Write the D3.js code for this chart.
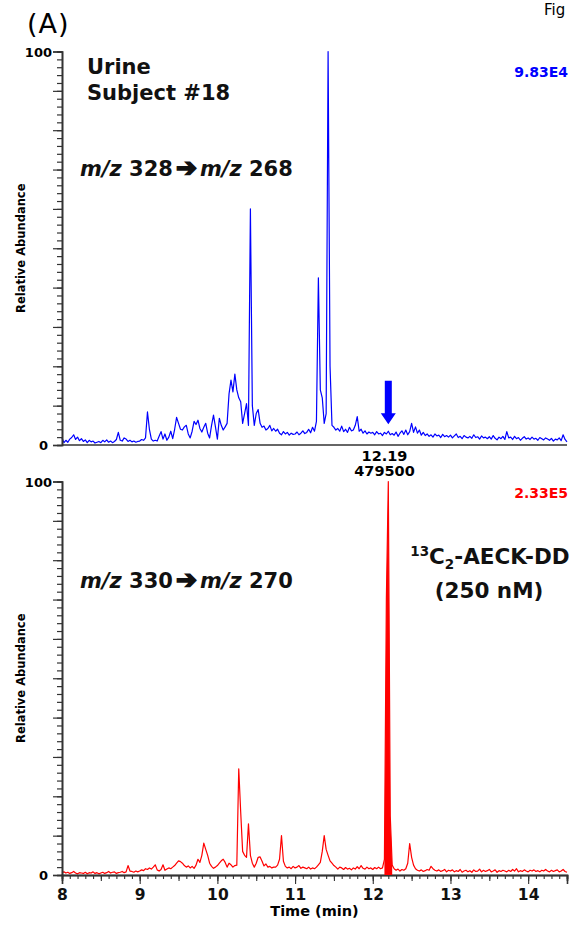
<!DOCTYPE html>
<html>
<head>
<meta charset="utf-8">
<script src="https://cdn.jsdelivr.net/npm/d3@7"></script>
<style>
  body { margin: 0; background: #fff; }
  text { font-family: "DejaVu Sans", Verdana, sans-serif; }
</style>
</head>
<body>
<svg width="574" height="926"></svg>
<script>

// sampling grid of both traces (min)
var timeStart = 8, timeStep = 0.025;
var xTickValues = [8, 9, 10, 11, 12, 13, 14];
var yTickLabels = [0, 100];

// m/z 328 -> 268, relative abundance (%)
var blueTrace = [
  1.8, 0.6, 1.2, 0.7, 1.5, 1.9, 2.6, 1.4, 2.0, 1.1,
  1.6, 0.9, 1.3, 0.6, 1.2, 0.8, 1.0, 0.5, 0.7, 0.9,
  0.6, 1.2, 0.8, 1.3, 0.7, 1.0, 0.6, 0.9, 1.4, 3.2,
  1.2, 1.0, 1.8, 1.5, 0.9, 1.2, 0.8, 1.0, 0.7, 0.9,
  1.0, 1.4, 1.2, 1.8, 8.4, 4.0, 1.5, 1.0, 1.2, 1.0,
  2.2, 3.4, 1.5, 2.8, 1.2, 2.0, 3.5, 1.6, 4.0, 7.0,
  5.5, 4.0, 3.8, 4.6, 5.0, 2.8, 1.8, 3.5, 6.0, 5.2,
  6.3, 4.2, 3.3, 4.5, 5.5, 3.0, 1.8, 5.0, 7.6, 4.6,
  1.5, 6.8, 5.0, 3.8, 4.6, 5.5, 13.0, 16.5, 13.5, 18.0,
  14.0, 12.0, 11.0, 5.5, 8.0, 10.5, 5.0, 60.0, 10.0, 5.0,
  8.0, 9.0, 5.5, 4.5, 4.8, 3.8, 4.2, 5.0, 3.6, 4.2,
  3.5, 4.0, 3.0, 2.6, 3.4, 2.8, 3.2, 2.5, 3.0, 2.7,
  2.8, 3.3, 2.6, 3.0, 3.6, 2.9, 3.2, 4.0, 3.1, 4.5,
  3.5, 6.0, 42.5, 14.0, 12.0, 5.5, 8.0, 100, 20.0, 5.0,
  4.5, 3.8, 4.2, 3.5, 4.8, 3.4, 4.0, 3.2, 4.5, 3.6,
  3.8, 5.0, 7.2, 3.5, 4.0, 3.0, 3.6, 2.8, 3.3, 3.0,
  3.2, 2.6, 3.4, 2.8, 3.0, 2.4, 3.2, 2.8, 3.5, 2.6,
  2.9, 2.5, 3.3, 2.2, 3.0, 3.6, 2.7, 3.8, 2.6, 3.4,
  5.5, 3.2, 4.6, 3.0, 3.8, 2.5, 3.2, 2.4, 2.8, 2.2,
  2.6, 2.0, 2.8, 2.3, 2.5, 1.9, 2.7, 2.1, 2.4, 2.0,
  2.5, 1.8, 2.3, 2.8, 1.9, 2.2, 1.6, 2.4, 2.0, 1.8,
  2.2, 1.7, 2.6, 1.9, 2.1, 1.5, 2.3, 1.8, 2.0, 1.6,
  2.1, 1.5, 2.4, 1.7, 1.3, 2.0, 1.6, 2.2, 1.4, 3.4,
  1.8, 2.0, 1.4, 2.2, 1.6, 1.9, 1.2, 1.7, 2.1, 1.5,
  1.8, 1.4, 2.0, 1.5, 1.7, 1.2, 1.9, 1.6, 1.3, 1.8,
  1.5, 1.2, 1.7, 1.0, 1.5, 1.3, 1.8, 1.1, 2.6, 1.4,
  0.8
];

// m/z 330 -> 270 (13C2 internal standard), relative abundance (%)
var redTrace = [
  0.6, 0.8, 0.5, 0.7, 0.4, 0.6, 0.9, 0.5, 0.3, 0.6,
  0.5, 0.4, 0.7, 0.3, 0.6, 0.5, 0.8, 0.4, 0.6, 0.3,
  0.5, 0.7, 0.4, 0.6, 0.9, 0.5, 0.7, 0.8, 0.4, 0.6,
  0.7, 0.9, 0.6, 0.8, 2.4, 1.0, 0.9, 0.7, 1.0, 0.8,
  1.0, 1.3, 1.1, 1.6, 1.4, 1.8, 1.5, 2.0, 2.6, 1.3,
  1.0, 1.4, 2.6, 1.2, 1.5, 1.8, 1.6, 2.0, 2.4, 3.0,
  3.6, 3.4, 3.0, 2.4, 2.0, 2.3, 1.8, 2.2, 1.7, 2.5,
  4.0, 3.2, 5.0, 8.1, 6.5, 5.0, 3.0, 2.2, 1.7, 2.0,
  2.4, 3.0, 3.6, 4.0, 3.2, 2.0, 3.0, 2.6, 2.0, 2.4,
  2.5, 27.0, 16.0, 6.0, 5.0, 4.5, 13.0, 5.0, 3.0, 2.0,
  3.0, 4.5, 4.6, 3.5, 2.3, 2.8, 2.0, 2.2, 1.8, 2.0,
  2.0, 2.5, 4.0, 10.0, 3.5, 2.2, 1.8, 2.0, 1.6, 2.2,
  1.8, 2.0, 2.4, 1.7, 2.0, 1.8, 1.6, 2.0, 1.5, 1.8,
  1.6, 2.0, 2.6, 3.2, 6.0, 10.0, 6.5, 5.0, 3.6, 3.0,
  2.4, 2.0, 1.5, 2.0, 1.8, 1.4, 1.9, 1.5, 1.7, 1.3,
  1.8, 1.5, 2.1, 1.6, 2.4, 1.7, 1.5, 2.0, 1.6, 1.8,
  1.4, 1.9, 1.6, 2.0, 1.6, 1.8, 4.0, 70.0, 100, 15.0,
  2.5, 1.6, 1.2, 1.5, 1.0, 1.4, 1.2, 1.6, 3.0, 8.0,
  4.5, 2.5, 1.6, 1.2, 1.0, 1.3, 0.9, 1.1, 1.4, 1.2,
  2.2, 1.6, 1.2, 1.0, 1.3, 0.9, 1.1, 1.4, 0.8, 1.2,
  1.0, 1.3, 0.8, 1.1, 0.9, 1.4, 0.7, 1.0, 1.2, 0.8,
  1.1, 0.7, 1.3, 0.9, 1.0, 1.5, 0.8, 1.2, 0.9, 1.1,
  1.4, 0.8, 1.0, 1.3, 0.7, 1.1, 0.9, 1.2, 1.0, 0.8,
  1.2, 0.9, 1.4, 1.0, 1.6, 0.8, 1.1, 0.9, 1.3, 1.0,
  0.8, 1.2, 1.0, 1.3, 0.9, 1.1, 0.8, 1.2, 1.0, 1.4,
  1.0, 0.8, 1.2, 0.9, 1.1, 1.3, 0.8, 1.0, 1.4, 0.9,
  0.7
];

var isPeak = { time: 12.19, area: "479500", from: 12.14, to: 12.26 };
var arrowMark = { time: 12.2, from: 16.3, to: 5.3 };

var svg = d3.select("svg");

var x = d3.scaleLinear().domain([8, 14.5]).range([62, 567]);

function toPoints(trace) {
  return trace.map(function(v, i) { return [timeStart + i * timeStep, v]; });
}

function drawPanel(trace, color, top, bottom, showTime) {
  var y = d3.scaleLinear().domain([0, 100]).range([bottom, top]);
  var g = svg.append("g");
  var line = d3.line().x(function(d) { return x(d[0]); }).y(function(d) { return y(d[1]); });

  g.append("path")
    .datum(toPoints(trace))
    .attr("d", line)
    .attr("fill", "none")
    .attr("stroke", color)
    .attr("stroke-width", 1.2)
    .attr("stroke-linejoin", "round");

  // y axis: minor every 2, major every 10
  var yMinor = g.append("g").attr("transform", "translate(62,0)")
    .call(d3.axisLeft(y).tickValues(d3.range(0, 101, 2)).tickSize(5).tickFormat(""));
  var yMajor = g.append("g").attr("transform", "translate(62,0)")
    .call(d3.axisLeft(y).tickValues(d3.range(0, 101, 10)).tickSize(9).tickFormat(""));
  [yMinor, yMajor].forEach(function(a) {
    a.select(".domain").attr("stroke", "#333").attr("stroke-width", 1.6);
    a.selectAll(".tick line").attr("stroke", "#333").attr("stroke-width", 1.2);
  });

  g.selectAll(".ylab")
    .data(yTickLabels)
    .enter().append("text")
      .attr("x", function(d) { return d === 100 ? 52 : 48; })
      .attr("y", function(d) { return y(d) + 5; })
      .attr("text-anchor", "end")
      .attr("font-size", 13)
      .attr("font-weight", "bold")
      .text(function(d) { return d; });

  g.append("text")
    .attr("transform", "translate(25," + ((top + bottom) / 2) + ") rotate(-90)")
    .attr("text-anchor", "middle")
    .attr("font-size", 11.5)
    .attr("font-weight", "bold")
    .text("Relative Abundance");

  if (showTime) {
    var xMinor = g.append("g").attr("transform", "translate(0," + bottom + ")")
      .call(d3.axisBottom(x).tickValues(d3.range(80, 146).map(function(v) { return v / 10; })).tickSize(4).tickFormat(""));
    var xMid = g.append("g").attr("transform", "translate(0," + bottom + ")")
      .call(d3.axisBottom(x).tickValues(d3.range(17, 30).map(function(v) { return v / 2; })).tickSize(6).tickFormat(""));
    var xMajor = g.append("g").attr("transform", "translate(0," + bottom + ")")
      .call(d3.axisBottom(x).tickValues(xTickValues).tickSize(9).tickPadding(5).tickFormat(d3.format("d")));
    [xMinor, xMid, xMajor].forEach(function(a) {
      a.select(".domain").attr("stroke", "#333").attr("stroke-width", 1.6);
      a.selectAll(".tick line").attr("stroke", "#333").attr("stroke-width", 1.1);
    });
    xMajor.selectAll(".tick text")
      .attr("font-size", 15.5)
      .attr("font-weight", "bold")
      .attr("font-family", "DejaVu Sans")
      .attr("fill", "#111");
    g.append("text")
      .attr("x", (x.range()[0] + x.range()[1]) / 2)
      .attr("y", bottom + 41)
      .attr("text-anchor", "middle")
      .attr("font-size", 14.5)
      .attr("font-weight", "bold")
      .text("Time (min)");
  } else {
    g.append("line")
      .attr("x1", x.range()[0]).attr("x2", x.range()[1])
      .attr("y1", bottom).attr("y2", bottom)
      .attr("stroke", "#333").attr("stroke-width", 1.6);
  }
  return y;
}

var yTop = drawPanel(blueTrace, "#0000ff", 51.5, 445, false);
var yBot = drawPanel(redTrace, "#ff0000", 481.5, 875, true);

// filled (integrated) internal-standard peak
var fillPts = toPoints(redTrace).filter(function(d) { return d[0] >= isPeak.from && d[0] <= isPeak.to; });
svg.append("path")
  .datum(fillPts)
  .attr("d", d3.area().x(function(d) { return x(d[0]); }).y0(yBot(0)).y1(function(d) { return yBot(d[1]); }))
  .attr("fill", "#ff0000");

// expected retention time arrow in the urine trace
var ax = x(arrowMark.time), ay0 = yTop(arrowMark.from), ay1 = yTop(arrowMark.to);
svg.append("path")
  .attr("d", "M" + (ax - 3.5) + "," + ay0 + "V" + (ay1 - 11) + "H" + (ax - 7.5) +
             "L" + ax + "," + ay1 + "L" + (ax + 7.5) + "," + (ay1 - 11) + "H" + (ax + 3.5) + "V" + ay0 + "Z")
  .attr("fill", "#0000ff");

// peak annotation
var pk = svg.append("g").attr("font-weight", "bold").attr("font-size", 14.5).attr("text-anchor", "middle");
pk.append("text").attr("x", x(isPeak.time) - 3).attr("y", 461).text(isPeak.time.toFixed(2));
pk.append("text").attr("x", x(isPeak.time) - 3).attr("y", 476).text(isPeak.area);

// scale factors
svg.append("text").attr("x", 568).attr("y", 77).attr("text-anchor", "end")
  .attr("font-size", 14).attr("font-weight", "bold").attr("fill", "#0000ff").text("9.83E4");
svg.append("text").attr("x", 568).attr("y", 498).attr("text-anchor", "end")
  .attr("font-size", 14).attr("font-weight", "bold").attr("fill", "#ff0000").text("2.33E5");

// panel texts
svg.append("text").attr("x", 27).attr("y", 33).attr("font-size", 27).attr("letter-spacing", 1).text("(A)");
svg.append("text").attr("x", 544).attr("y", 15).attr("font-size", 15).text("Fig");

var big = svg.append("g").attr("font-size", 21).attr("font-weight", "bold").attr("fill", "#111");
big.append("text").attr("x", 87).attr("y", 74).text("Urine");
big.append("text").attr("x", 87).attr("y", 100).text("Subject #18");

function transitionLabel(yPos, a, b) {
  var t = big.append("text").attr("x", 80).attr("y", yPos);
  t.append("tspan").attr("font-style", "italic").text("m/z");
  t.append("tspan").text(" " + a);
  t.append("tspan").attr("dx", 3).attr("font-size", 25).attr("stroke", "#111").attr("stroke-width", 1.6)
    .text("\u2794");
  t.append("tspan").attr("dx", 3).attr("font-style", "italic").text("m/z");
  t.append("tspan").text(" " + b);
}
transitionLabel(176, "328", "268");
transitionLabel(588, "330", "270");

var std = big.append("text").attr("x", 490).attr("y", 564).attr("text-anchor", "middle").attr("font-size", 21.5);
std.append("tspan").attr("font-size", 13.5).attr("dy", -8).text("13");
std.append("tspan").attr("dy", 8).text("C");
std.append("tspan").attr("font-size", 13.5).attr("dy", 5).text("2");
std.append("tspan").attr("dy", -5).text("-AECK-DD");
big.append("text").attr("x", 489).attr("y", 598).attr("text-anchor", "middle").attr("font-size", 21.5).text("(250 nM)");

</script>
</body>
</html>
